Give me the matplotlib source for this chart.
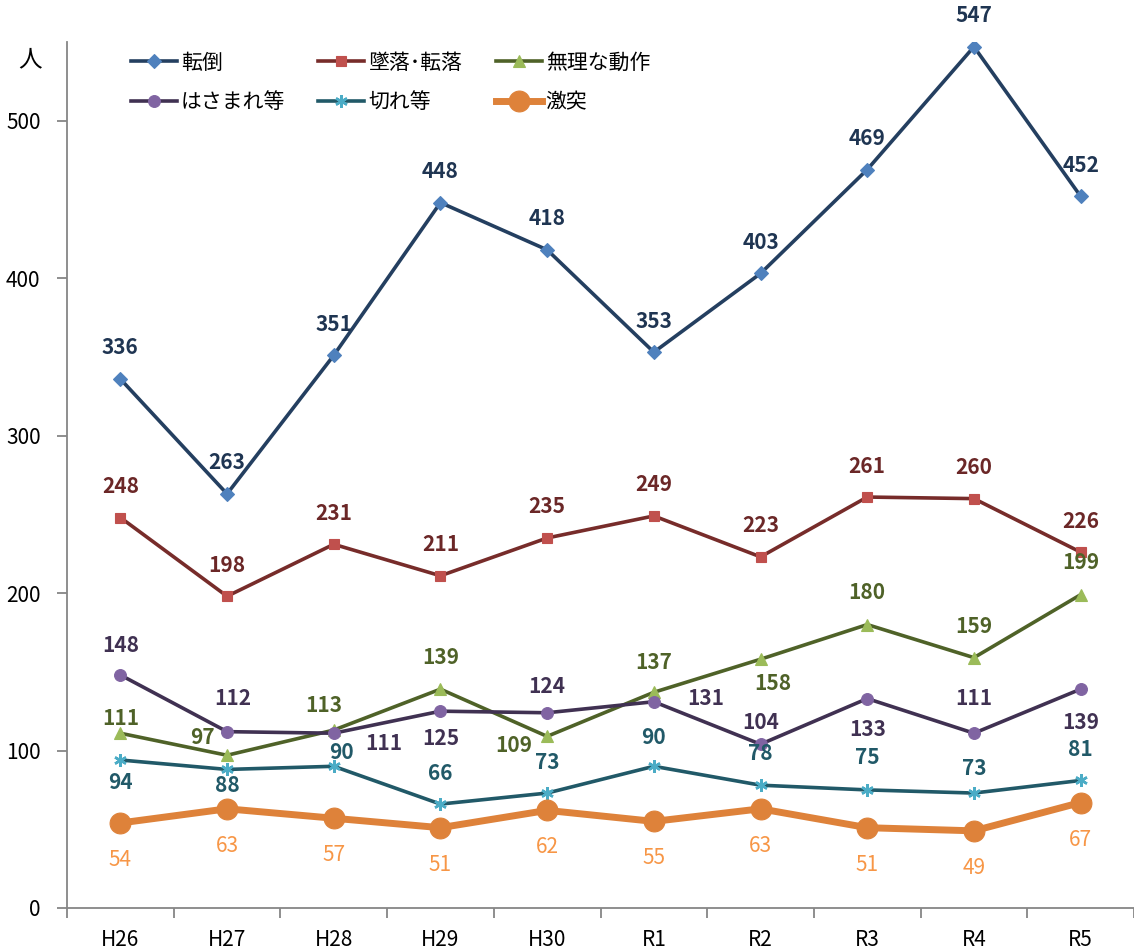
import matplotlib
matplotlib.use("Agg")
import matplotlib.pyplot as plt
import numpy as np

plt.rcParams['font.family'] = ['Noto Sans CJK JP', 'DejaVu Sans']

# data
years = ["H26", "H27", "H28", "H29", "H30", "R1", "R2", "R3", "R4", "R5"]
tentou = [336, 263, 351, 448, 418, 353, 403, 469, 547, 452]
tsuiraku = [248, 198, 231, 211, 235, 249, 223, 261, 260, 226]
muri = [111, 97, 113, 139, 109, 137, 158, 180, 159, 199]
hasamare = [148, 112, 111, 125, 124, 131, 104, 133, 111, 139]
kire = [94, 88, 90, 66, 73, 90, 78, 75, 73, 81]
gekitotsu = [54, 63, 57, 51, 62, 55, 63, 51, 49, 67]

# label offsets in pixels (dx, dy)
above = [(0, 31)] * 10
off_muri = [(0, 15), (-25, 18), (-10, 25), (0, 32), (-33, -9),
            (0, 30), (12, -24), (0, 32), (0, 31), (0, 32)]
off_hasamare = [(0, 29), (6, 33), (50, -10), (0, -27), (0, 26),
                (52, 3), (0, 22), (0, -31), (0, 35), (0, -33)]
off_kire = [(0, -23), (0, -16), (8, 14), (0, 31), (0, 31),
            (0, 29), (0, 32), (0, 32), (0, 25), (0, 31)]
below = [(0, -37)] * 10

series = [
    # name, values, line color, marker, marker color, ms, lw, label color, bold, offsets
    ("転倒", tentou, "#243F60", "D", "#4F81BD", 7.5, 2.6, "#1F3552", True, above),
    ("墜落･転落", tsuiraku, "#772C2A", "s", "#C0504D", 7.5, 2.6, "#6B2727", True, above),
    ("無理な動作", muri, "#4F6228", "^", "#9BBB59", 8.5, 2.6, "#4F6228", True, off_muri),
    ("はさまれ等", hasamare, "#403152", "o", "#8064A2", 8.5, 2.6, "#403152", True, off_hasamare),
    ("切れ等", kire, "#215968", (6, 2, 0), "#4BACC6", 9, 2.6, "#215968", True, off_kire),
    ("激突", gekitotsu, "#DE823A", "o", "#DE823A", 15, 5, "#F79646", False, below),
]

fig = plt.figure(figsize=(11.34, 9.49), dpi=100)
ax = fig.add_axes([67 / 1134, 41 / 949, 1 - 67 / 1134, (908 - 42) / 949])

x = np.arange(len(years))
handles = []
for name, vals, lc, mk, mc, ms, lw, tc, bold, offs in series:
    h, = ax.plot(x, vals, color=lc, lw=lw, marker=mk, ms=ms, mfc=mc, mec=mc,
                 mew=1.8 if mk == (6, 2, 0) else 0.8, label=name, zorder=3)
    handles.append(h)
    for xi, v, (dx, dy) in zip(x, vals, offs):
        ax.annotate(str(v), (xi, v), xytext=(dx, dy), textcoords="offset pixels",
                    ha="center", va="center", fontsize=15, color=tc,
                    fontweight="bold" if bold else "normal", zorder=4)

ax.set_xlim(-0.5, len(years) - 0.5)
ax.set_ylim(0, 550)
ax.set_yticks(range(0, 501, 100))
ax.set_xticks(x)
ax.set_xticklabels(years)
ax.set_xticks(np.arange(-0.5, len(years)), minor=True)
ax.tick_params(axis="x", which="major", length=0, pad=15, labelsize=15)
ax.tick_params(axis="x", which="minor", length=7, width=1.3, color="#868686", direction="out")
ax.tick_params(axis="y", length=7, width=1.3, color="#868686", pad=12, labelsize=15)

for s in ["top", "right"]:
    ax.spines[s].set_visible(False)
for s in ["left", "bottom"]:
    ax.spines[s].set_color("#868686")
    ax.spines[s].set_linewidth(1.3)

fig.text(30 / 1134, 1 - 60 / 949, "人", fontsize=17, ha="center", va="center")

# legend fills column by column, so reorder to read row by row
order = [0, 3, 1, 4, 2, 5]
ax.legend(handles=[handles[i] for i in order], ncol=3, frameon=False, fontsize=15,
          loc="upper left", bbox_to_anchor=(112 / 1134, 1 - 33 / 949),
          bbox_transform=fig.transFigure, handlelength=2.2, handletextpad=0.2,
          columnspacing=1.6, labelspacing=0.85)

fig.savefig("out.png", dpi=100)
